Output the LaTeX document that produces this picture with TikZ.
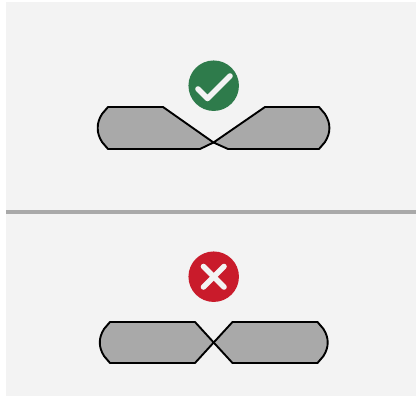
\documentclass[tikz,border=0pt]{standalone}
\definecolor{panel}{HTML}{F3F3F3}
\definecolor{shapefill}{HTML}{A9A9A9}
\definecolor{okgreen}{HTML}{2E7B4B}
\definecolor{badred}{HTML}{C91B2B}
\tikzset{
  x=1pt,y=-1pt,
  blade/.style={draw=black,fill=shapefill,line width=1.9pt,line join=round},
  badge/.style={circle,inner sep=0pt,minimum size=50.5pt},
  mark stroke/.style={draw=panel,line width=5.6pt,line cap=round,line join=round}
}
\begin{document}
\begin{tikzpicture}
\useasboundingbox (0,0) rectangle (416,396);
\fill[panel] (6,2) rectangle (416,396);
\fill[shapefill] (6,210.5) rectangle (416,214);
% top pair
\draw[blade] (108,107) -- (163,107) -- (213.5,142.5) -- (200,149) -- (108,149)
  -- (102,142) .. controls (99,137) and (97.7,133) .. (97.7,128)
  .. controls (97.7,123) and (99,119) .. (102,114) -- cycle;
\draw[blade] (319,107) -- (265,107) -- (213.5,142.5) -- (228,149) -- (319,149)
  -- (325,142) .. controls (328,137) and (329.4,133) .. (329.4,128)
  .. controls (329.4,123) and (328,119) .. (325,114) -- cycle;
\node[badge,fill=okgreen] (ok) at (213.7,85.7) {};
\draw[mark stroke] (198,89) -- (207.5,98.5) -- (230,76);
% bottom pair
\draw[blade] (110,322) -- (195,322) -- (213.7,342.5) -- (195,363) -- (110,363)
  -- (104,356) .. controls (101,351) and (99.8,347) .. (99.8,342.5)
  .. controls (99.8,338) and (101,334) .. (104,329) -- cycle;
\draw[blade] (317.5,322) -- (232.5,322) -- (213.7,342.5) -- (232.5,363) -- (317.5,363)
  -- (323.5,356) .. controls (326.5,351) and (327.7,347) .. (327.7,342.5)
  .. controls (327.7,338) and (326.5,334) .. (323.5,329) -- cycle;
\node[badge,fill=badred] (bad) at (213.7,276.7) {};
\draw[mark stroke] (203.5,266.5) -- (224,287);
\draw[mark stroke] (224,266.5) -- (203.5,287);
\end{tikzpicture}
\end{document}
